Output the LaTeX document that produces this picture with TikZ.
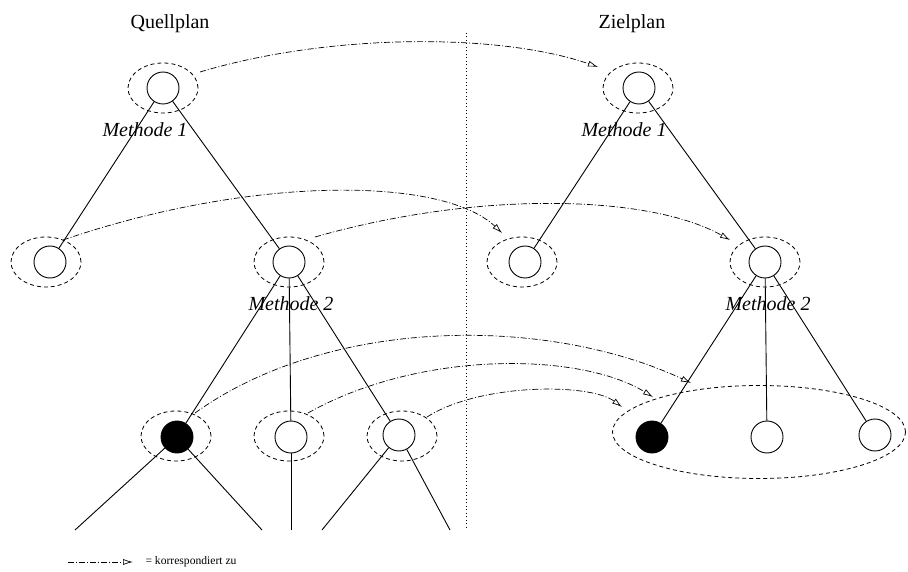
\documentclass[tikz,border=0pt]{standalone}
\usepackage{fontspec}
\setmainfont{Liberation Serif}
\usetikzlibrary{shapes.geometric,arrows.meta}
\begin{document}
\begin{tikzpicture}[x=1pt,y=-1pt,
  circ/.style={circle,draw,line width=0.9pt,minimum size=32pt,inner sep=0pt},
  blk/.style={circ,fill=black},
  halo/.style={ellipse,draw,line width=0.8pt,dash pattern=on 4pt off 3pt,minimum width=70pt,minimum height=50pt,inner sep=0pt},
  edge/.style={line width=0.9pt},
  corr/.style={line width=0.7pt,dash pattern=on 6pt off 2pt on 1pt off 2pt,-{Latex[length=10pt,width=6pt,fill=white]}},
  big/.style={font=\fontsize{20}{24}\selectfont,anchor=base},
  meth/.style={font=\fontsize{20}{24}\selectfont\itshape,anchor=base},
  legend/.style={font=\fontsize{11.6}{14}\selectfont,anchor=west},
]
\useasboundingbox (0,0) rectangle (908,572);

% titles
\node[big] (tq) at (170,29) {Quellplan};
\node[big] (tz) at (632,29) {Zielplan};

% divider
\coordinate (dtop) at (466,33);
\coordinate (dbot) at (466,530);
\draw[line width=0.7pt,dash pattern=on 1pt off 2.5pt] (dtop) -- (dbot);

% source tree
\node[circ] (q1) at (163,88) {};
\node[halo] (q1e) at (163,88) {};
\node[meth] (q1l) at (145,137) {Methode 1};
\node[circ] (q2a) at (50,262) {};
\node[halo] (q2ae) at (46,262) {};
\node[circ] (q2b) at (289,262) {};
\node[halo] (q2be) at (289,262) {};
\node[meth] (q2bl) at (291,310) {Methode 2};
\node[blk] (q3a) at (177,437) {};
\node[halo] (q3ae) at (176,436) {};
\node[circ] (q3b) at (291,437) {};
\node[halo] (q3be) at (289,436) {};
\node[circ] (q3c) at (399,435) {};
\node[halo] (q3ce) at (402,436) {};
\coordinate (b1) at (75,530);
\coordinate (b2) at (262,530);
\coordinate (b3) at (291,530);
\coordinate (b4) at (322,530);
\coordinate (b5) at (450,530);

\draw[edge] (q1) -- (q2a);
\draw[edge] (q1) -- (q2b);
\draw[edge] (q2b) -- (q3a);
\draw[edge] (q2b) -- (q3b);
\draw[edge] (q2b) -- (q3c);
\draw[edge] (q3a) -- (b1);
\draw[edge] (q3a) -- (b2);
\draw[edge] (q3b) -- (b3);
\draw[edge] (q3c) -- (b4);
\draw[edge] (q3c) -- (b5);

% target tree
\node[circ] (z1) at (639,88) {};
\node[halo] (z1e) at (638,88) {};
\node[meth] (z1l) at (624,137) {Methode 1};
\node[circ] (z2a) at (525,262) {};
\node[halo] (z2ae) at (522,262) {};
\node[circ] (z2b) at (765,262) {};
\node[halo] (z2be) at (765,262) {};
\node[meth] (z2bl) at (768,310) {Methode 2};
\node[blk] (z3a) at (652,437) {};
\node[circ] (z3b) at (767,437) {};
\node[circ] (z3c) at (875,435) {};
\node[halo,minimum width=293pt,minimum height=93pt] (zbig) at (759,432) {};

\draw[edge] (z1) -- (z2a);
\draw[edge] (z1) -- (z2b);
\draw[edge] (z2b) -- (z3a);
\draw[edge] (z2b) -- (z3b);
\draw[edge] (z2b) -- (z3c);

% correspondence arrows
\coordinate (a1s) at (200,72);  \coordinate (a1e) at (598,67);
\coordinate (a2s) at (63,240);  \coordinate (a2e) at (502,233);
\coordinate (a3s) at (315,237); \coordinate (a3e) at (730,240);
\coordinate (a4s) at (195,413); \coordinate (a4e) at (691,383);
\coordinate (a5s) at (308,413); \coordinate (a5e) at (653,397);
\coordinate (a6s) at (427,417); \coordinate (a6e) at (622,407);

\draw[corr] (a1s) .. controls (330,33) and (500,33) .. (a1e);
\draw[corr] (a2s) .. controls (250,176) and (442,176) .. (a2e);
\draw[corr] (a3s) .. controls (480,190) and (650,195) .. (a3e);
\draw[corr] (a4s) .. controls (330,316) and (548,316) .. (a4e);
\draw[corr] (a5s) .. controls (420,350) and (580,352) .. (a5e);
\draw[corr] (a6s) .. controls (480,383) and (590,383) .. (a6e);

% legend
\coordinate (ls) at (68,562);
\coordinate (le) at (133,562);
\draw[corr] (ls) -- (le);
\node[legend] (lt) at (142,562) {= korrespondiert zu};
\end{tikzpicture}
\end{document}
